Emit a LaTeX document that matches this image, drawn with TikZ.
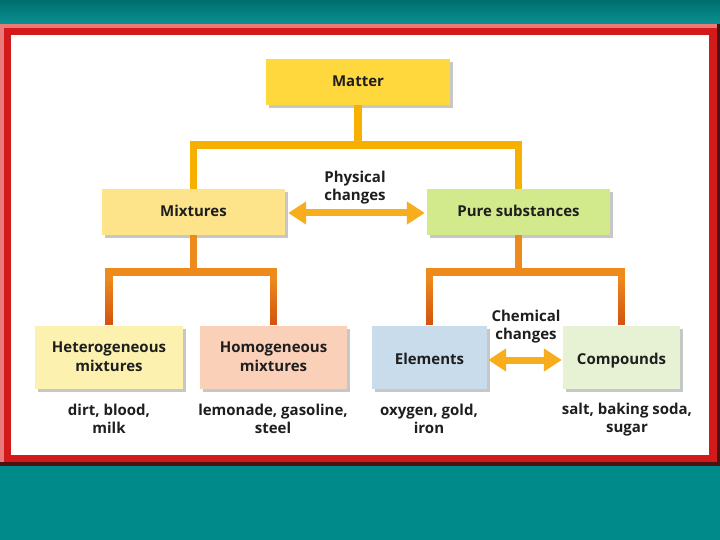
\documentclass[tikz,border=0pt]{standalone}
\usepackage{fontspec}
\setmainfont{Open Sans}
\usetikzlibrary{arrows.meta,shadows,fadings,positioning}
\definecolor{teal1}{HTML}{006E6F}
\definecolor{teal2}{HTML}{0A908E}
\definecolor{tealbg}{HTML}{008A8A}
\definecolor{framered}{HTML}{D21A1A}
\definecolor{framepink}{HTML}{EA7A7A}
\definecolor{framedark}{HTML}{4A1212}
\definecolor{cMatter}{HTML}{FFD83E}
\definecolor{cMix}{HTML}{FDE48A}
\definecolor{cPure}{HTML}{D3EA8C}
\definecolor{cHet}{HTML}{FDF1AF}
\definecolor{cHom}{HTML}{FBD0B8}
\definecolor{cElem}{HTML}{C9DCEB}
\definecolor{cComp}{HTML}{E6F2D3}
\definecolor{lineTop}{HTML}{F8B000}
\definecolor{lineLow}{HTML}{EE8A1C}
\definecolor{lineDark}{HTML}{D24E0E}
\definecolor{arrowcol}{HTML}{F8AE1C}
\definecolor{txt}{HTML}{1E1E1E}
\tikzset{
  box/.style={rectangle, inner sep=0pt, align=center, text=txt,
    font=\fontsize{15}{19}\selectfont\bfseries,
    drop shadow={shadow xshift=3pt, shadow yshift=-3pt, fill=black, opacity=0.22}},
  oneline/.style={text height=11pt, text depth=1pt},
  lowline/.style={text height=15pt, text depth=0pt},
  caption/.style={inner sep=0pt, align=center, text=txt,
    font=\fontsize{15}{18}\selectfont\bfseries},
  conntop/.style={draw=lineTop, line width=7.5pt, line join=miter},
  connlow/.style={draw=lineLow, line width=7.5pt, line join=miter},
  fadeover/.style={draw=lineDark, line width=7.5pt, path fading=north},
  dblarrow/.style={draw=arrowcol, line width=7pt,
    {Triangle[width=22pt,length=18pt]}-{Triangle[width=22pt,length=18pt]}}
}
\begin{document}
\begin{tikzpicture}[x=1pt,y=-1pt]
\useasboundingbox (0,0) rectangle (720,540);
% background
\fill[tealbg] (0,0) rectangle (720,540);
\shade[top color=teal1, bottom color=teal2] (0,0) rectangle (720,24);
% frame
\fill[framedark] (0,24) rectangle (720,466);
\fill[framered] (0,24) rectangle (717,462);
\fill[framepink] (0,24) rectangle (4,462);
\fill[framepink] (0,24) rectangle (717,28);
\fill[white] (11,35) rectangle (709,455);

% nodes
\node[box, oneline, fill=cMatter, minimum width=184pt, minimum height=46pt] (matter) at (358,82) {Matter};
\node[box, oneline, fill=cMix, minimum width=183pt, minimum height=46pt] (mix) at (193.5,212) {Mixtures};
\node[box, oneline, fill=cPure, minimum width=183pt, minimum height=46pt] (pure) at (518.5,212) {Pure substances};
\node[box, fill=cHet, minimum width=148pt, minimum height=63pt] (het) at (109,357) {Heterogeneous\\mixtures};
\node[box, fill=cHom, minimum width=147pt, minimum height=63pt] (hom) at (273.5,357) {Homogeneous\\mixtures};
\node[box, lowline, fill=cElem, minimum width=115pt, minimum height=63pt] (elem) at (429.5,357) {Elements};
\node[box, lowline, fill=cComp, minimum width=117pt, minimum height=63pt] (comp) at (621.5,357) {Compounds};

\node[caption] (phys) at (355,188) {Physical\\changes};
\node[caption] (chem) at (526,327) {Chemical\\changes};

\node[caption] (capHet) at (109,419) {dirt, blood,\\milk};
\node[caption] (capHom) at (273,419) {lemonade, gasoline,\\steel};
\node[caption] (capElem) at (429,419) {oxygen, gold,\\iron};
\node[caption] (capComp) at (627,420) {salt, baking soda,\\sugar};

% junctions
\coordinate (j1) at (358,145);
\coordinate (j2) at (193.5,272);
\coordinate (j3) at (518.5,272);

% connectors
\draw[conntop] (matter.south) -- (j1);
\draw[conntop] (mix.north) |- (j1) -| (pure.north);
\draw[connlow] (mix.south) -- (j2);
\draw[connlow] (pure.south) -- (j3);
\draw[connlow] (het.north) |- (j2) -| (hom.north);
\draw[connlow] (elem.north) |- (j3) -| (comp.north);
\draw[fadeover] (het.north) -- ++(0,-44);
\draw[fadeover] (hom.north) -- ++(0,-44);
\draw[fadeover] (elem.north) -- ++(0,-44);
\draw[fadeover] (comp.north) -- ++(0,-44);

% double arrows
\draw[dblarrow, shorten <=3pt, shorten >=2pt] ([yshift=-1pt]mix.east) -- ([yshift=-1pt]pure.west);
\draw[dblarrow, shorten <=1pt, shorten >=1pt] ([yshift=-3pt]elem.east) -- ([yshift=-3pt]comp.west);
\end{tikzpicture}
\end{document}
